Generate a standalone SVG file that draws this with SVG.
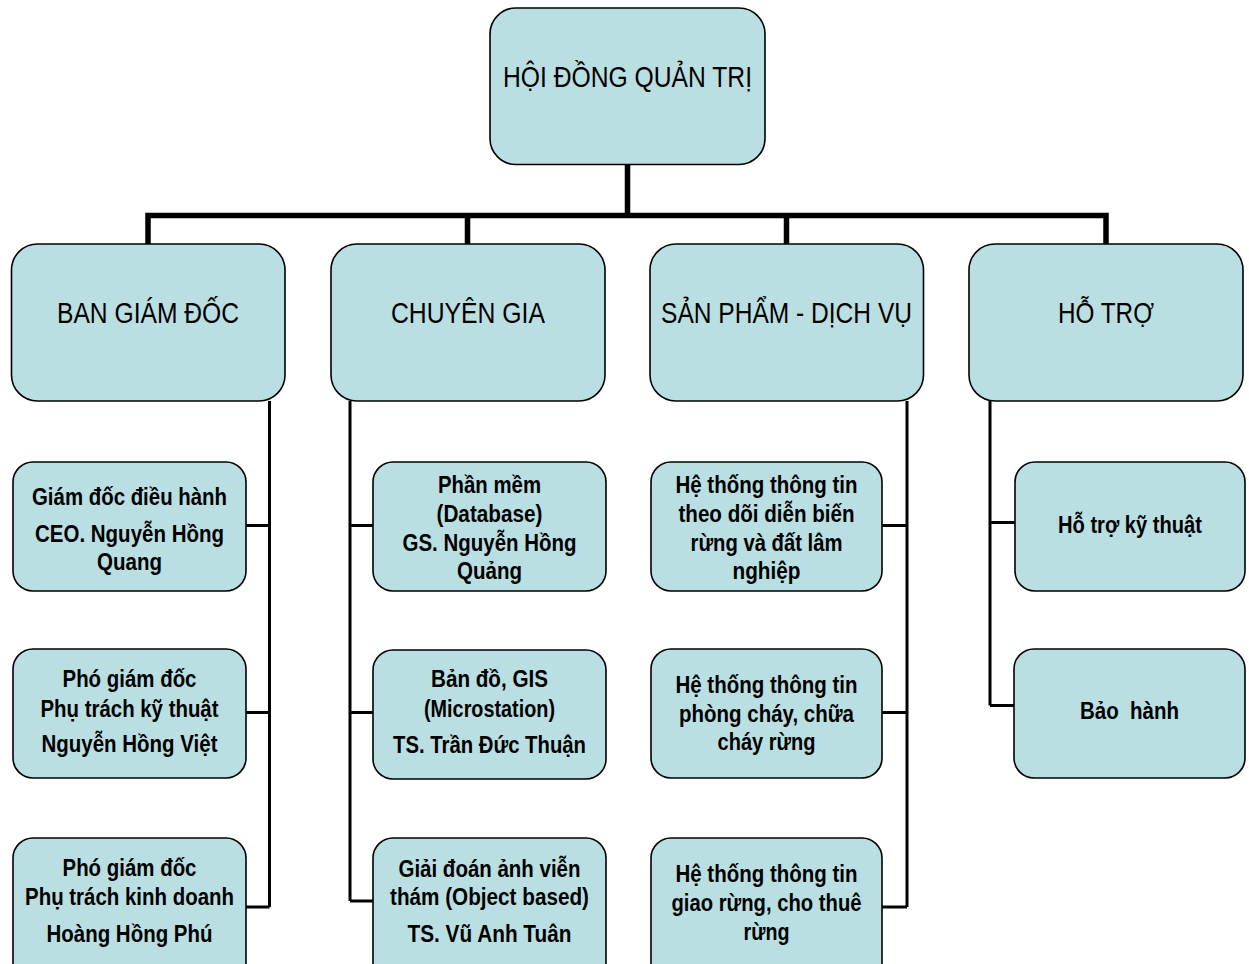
<svg xmlns="http://www.w3.org/2000/svg" width="1249" height="964" viewBox="0 0 1249 964">
<style>
.box{fill:#BADFE2;stroke:#000;stroke-width:1.6}
.t1{font-family:"Liberation Sans",Arial,sans-serif;font-size:30px;fill:#000;text-anchor:middle}
.t2{font-family:"Liberation Sans",Arial,sans-serif;font-size:24px;font-weight:bold;fill:#000;text-anchor:middle}
.bus{stroke:#000;stroke-width:5.5;fill:none}
.lk{stroke:#000;stroke-width:3;fill:none}
</style>
<rect width="1249" height="964" fill="#fff"/>
<g id="connectors">
<path class="bus" d="M627.5 164V215.5M148 244V215.5H1106V244M467.5 215.5V244M786.5 215.5V244"/>
<path class="lk" d="M269.5 401V907M246 525.5H269.5M246 712.5H269.5M246 907H269.5"/>
<path class="lk" d="M350 401V901M350 525.5H373M350 712.5H373M350 901H373"/>
<path class="lk" d="M907 401V907M882 525.5H907M882 712.5H907M882 907H907"/>
<path class="lk" d="M990 401V705.5M990 522.5H1015M990 705.5H1015"/>
</g>
<g id="n-hdqt"><rect class="box" x="490" y="8" width="275" height="156.5" rx="26"/><text class="t1" x="627.5" y="87" textLength="249" lengthAdjust="spacingAndGlyphs">HỘI ĐỒNG QUẢN TRỊ</text></g>
<g id="n-bgd"><rect class="box" x="11.5" y="244" width="273.5" height="157" rx="26"/><text class="t1" x="148" y="323" textLength="182" lengthAdjust="spacingAndGlyphs">BAN GIÁM ĐỐC</text></g>
<g id="n-cg"><rect class="box" x="331" y="244" width="274" height="157" rx="26"/><text class="t1" x="468" y="323" textLength="154" lengthAdjust="spacingAndGlyphs">CHUYÊN GIA</text></g>
<g id="n-spdv"><rect class="box" x="650" y="244" width="273.5" height="157" rx="26"/><text class="t1" x="786.5" y="323" textLength="251" lengthAdjust="spacingAndGlyphs">SẢN PHẨM - DỊCH VỤ</text></g>
<g id="n-ht"><rect class="box" x="969" y="244" width="274" height="157" rx="26"/><text class="t1" x="1106" y="323" textLength="96" lengthAdjust="spacingAndGlyphs">HỖ TRỢ</text></g>

<g id="n-gddh"><rect class="box" x="13" y="462" width="233" height="129" rx="20"/>
<text class="t2" x="129.5" y="505" textLength="195" lengthAdjust="spacingAndGlyphs">Giám đốc điều hành</text>
<text class="t2" x="129.5" y="542" textLength="189" lengthAdjust="spacingAndGlyphs">CEO. Nguyễn Hồng</text>
<text class="t2" x="129.5" y="570" textLength="65" lengthAdjust="spacingAndGlyphs">Quang</text></g>
<g id="n-pgdkt"><rect class="box" x="13" y="649" width="233" height="129" rx="20"/>
<text class="t2" x="129.5" y="687" textLength="134" lengthAdjust="spacingAndGlyphs">Phó giám đốc</text>
<text class="t2" x="129.5" y="717" textLength="178" lengthAdjust="spacingAndGlyphs">Phụ trách kỹ thuật</text>
<text class="t2" x="129.5" y="752" textLength="176" lengthAdjust="spacingAndGlyphs">Nguyễn Hồng Việt</text></g>
<g id="n-pgdkd"><rect class="box" x="13" y="838" width="233" height="160" rx="20"/>
<text class="t2" x="129.5" y="876" textLength="134" lengthAdjust="spacingAndGlyphs">Phó giám đốc</text>
<text class="t2" x="129.5" y="905" textLength="209" lengthAdjust="spacingAndGlyphs">Phụ trách kinh doanh</text>
<text class="t2" x="129.5" y="942" textLength="166" lengthAdjust="spacingAndGlyphs">Hoàng Hồng Phú</text></g>

<g id="n-pm"><rect class="box" x="373" y="462" width="233" height="129" rx="20"/>
<text class="t2" x="489.5" y="493" textLength="103" lengthAdjust="spacingAndGlyphs">Phần mềm</text>
<text class="t2" x="489.5" y="522" textLength="106" lengthAdjust="spacingAndGlyphs">(Database)</text>
<text class="t2" x="489.5" y="551" textLength="174" lengthAdjust="spacingAndGlyphs">GS. Nguyễn Hồng</text>
<text class="t2" x="489.5" y="579" textLength="65" lengthAdjust="spacingAndGlyphs">Quảng</text></g>
<g id="n-bd"><rect class="box" x="373" y="650" width="233" height="129" rx="20"/>
<text class="t2" x="489.5" y="687" textLength="117" lengthAdjust="spacingAndGlyphs">Bản đồ, GIS</text>
<text class="t2" x="489.5" y="717" textLength="131" lengthAdjust="spacingAndGlyphs">(Microstation)</text>
<text class="t2" x="489.5" y="753" textLength="193" lengthAdjust="spacingAndGlyphs">TS. Trần Đức Thuận</text></g>
<g id="n-gd"><rect class="box" x="373" y="838" width="233" height="160" rx="20"/>
<text class="t2" x="489.5" y="877" textLength="182" lengthAdjust="spacingAndGlyphs">Giải đoán ảnh viễn</text>
<text class="t2" x="489.5" y="905" textLength="199" lengthAdjust="spacingAndGlyphs">thám (Object based)</text>
<text class="t2" x="489.5" y="942" textLength="164" lengthAdjust="spacingAndGlyphs">TS. Vũ Anh Tuân</text></g>

<g id="n-htt1"><rect class="box" x="651" y="462" width="231" height="129" rx="20"/>
<text class="t2" x="766.5" y="493" textLength="182" lengthAdjust="spacingAndGlyphs">Hệ thống thông tin</text>
<text class="t2" x="766.5" y="522" textLength="176" lengthAdjust="spacingAndGlyphs">theo dõi diễn biến</text>
<text class="t2" x="766.5" y="551" textLength="152" lengthAdjust="spacingAndGlyphs">rừng và đất lâm</text>
<text class="t2" x="766.5" y="579" textLength="68" lengthAdjust="spacingAndGlyphs">nghiệp</text></g>
<g id="n-htt2"><rect class="box" x="651" y="649" width="231" height="129" rx="20"/>
<text class="t2" x="766.5" y="693" textLength="182" lengthAdjust="spacingAndGlyphs">Hệ thống thông tin</text>
<text class="t2" x="766.5" y="722" textLength="175" lengthAdjust="spacingAndGlyphs">phòng cháy, chữa</text>
<text class="t2" x="766.5" y="750" textLength="98" lengthAdjust="spacingAndGlyphs">cháy rừng</text></g>
<g id="n-htt3"><rect class="box" x="651" y="838" width="231" height="160" rx="20"/>
<text class="t2" x="766.5" y="882" textLength="182" lengthAdjust="spacingAndGlyphs">Hệ thống thông tin</text>
<text class="t2" x="766.5" y="911" textLength="190" lengthAdjust="spacingAndGlyphs">giao rừng, cho thuê</text>
<text class="t2" x="766.5" y="940" textLength="46" lengthAdjust="spacingAndGlyphs">rừng</text></g>

<g id="n-htkt"><rect class="box" x="1015" y="462" width="230" height="129" rx="20"/>
<text class="t2" x="1130" y="533" textLength="144" lengthAdjust="spacingAndGlyphs">Hỗ trợ kỹ thuật</text></g>
<g id="n-bh"><rect class="box" x="1014" y="649" width="231" height="129" rx="20"/>
<text class="t2" x="1129.5" y="719" textLength="99" lengthAdjust="spacingAndGlyphs" xml:space="preserve">Bảo  hành</text></g>
</svg>
